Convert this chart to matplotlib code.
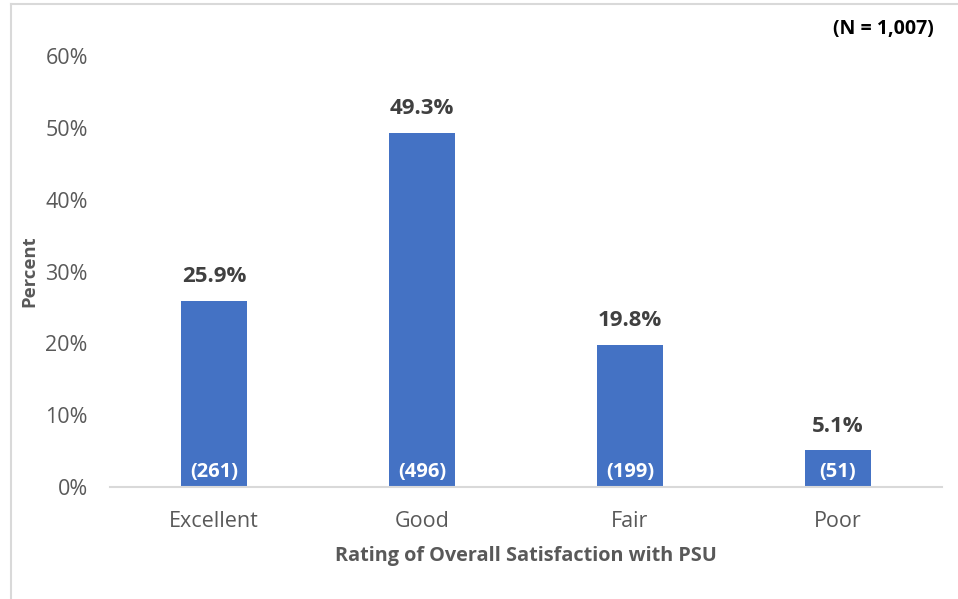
import matplotlib.pyplot as plt
from matplotlib.lines import Line2D

categories = ["Excellent", "Good", "Fair", "Poor"]
percents = [25.9, 49.3, 19.8, 5.1]
counts = [261, 496, 199, 51]
yticks = [0, 10, 20, 30, 40, 50, 60]

plt.rcParams['font.family'] = ['Open Sans', 'DejaVu Sans']

fig = plt.figure(figsize=(9.58, 5.99), dpi=100)
ax = fig.add_axes([110 / 958, 1 - 487 / 599, 832 / 958, 431 / 599])

x = range(len(categories))
bars = ax.bar(x, percents, width=0.32, color='#4472C4')

for i, b in enumerate(bars):
    ax.text(b.get_x() + b.get_width() / 2, percents[i] + 1.9, f"{percents[i]}%",
            ha='center', va='bottom', fontsize=16, fontweight='bold', color='#404040')
    ax.text(b.get_x() + b.get_width() / 2, 0.7, f"({counts[i]})",
            ha='center', va='bottom', fontsize=14.5, fontweight='bold', color='white')

ax.set_xlim(-0.5, 3.5)
ax.set_ylim(0, 60)
ax.set_yticks(yticks)
ax.set_yticklabels([f"{t}%" for t in yticks])
ax.set_xticks(list(x))
ax.set_xticklabels(categories)
ax.tick_params(axis='both', length=0, labelsize=15.5, colors='#595959')
ax.tick_params(axis='y', pad=16)
ax.tick_params(axis='x', pad=17)

for s in ['top', 'right', 'left']:
    ax.spines[s].set_visible(False)
ax.spines['bottom'].set_color('#d9d9d9')
ax.spines['bottom'].set_linewidth(1.5)

ax.set_xlabel("Rating of Overall Satisfaction with PSU", fontsize=14.3,
              fontweight='bold', color='#595959', labelpad=10)
ax.set_ylabel("Percent", fontsize=13.3, fontweight='bold', color='#595959', labelpad=5)

fig.text(934 / 958, 1 - 29 / 599, "(N = 1,007)", ha='right', va='center',
         fontsize=14, fontweight='bold', color='black')

# outer frame (left and top only)
fig.add_artist(Line2D([11 / 958, 11 / 958], [0, 1 - 4 / 599], color='#d9d9d9', lw=1.5))
fig.add_artist(Line2D([11 / 958, 1], [1 - 4 / 599, 1 - 4 / 599], color='#d9d9d9', lw=1.5))

fig.savefig("out.png", dpi=100)
